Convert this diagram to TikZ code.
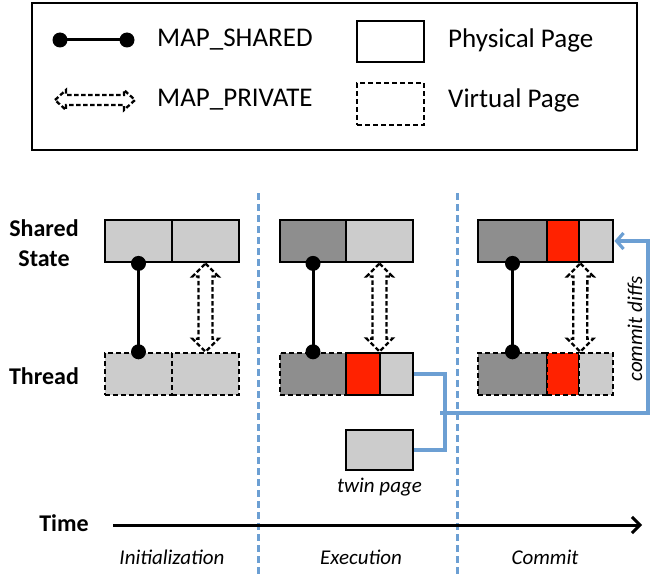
\documentclass[tikz,border=0pt]{standalone}
\usepackage{fontspec}
\setmainfont{Carlito}
\usetikzlibrary{arrows.meta}
\definecolor{lg}{HTML}{CCCCCC}
\definecolor{dg}{HTML}{8E8E8E}
\definecolor{rd}{HTML}{FF2200}
\definecolor{bl}{HTML}{6C9FD3}
\newcommand{\vparrow}[2]{\draw[privline] (#1) -- ([shift={(13,13)}]#1) -- ([shift={(7,13)}]#1) -- ([shift={(7,-13)}]#2) -- ([shift={(13,-13)}]#2) -- (#2) -- ([shift={(-13,-13)}]#2) -- ([shift={(-7,-13)}]#2) -- ([shift={(-7,13)}]#1) -- ([shift={(-13,13)}]#1) -- cycle;}
\newcommand{\hparrow}[2]{\draw[privline] (#1) -- ([shift={(11,-10)}]#1) -- ([shift={(11,-5)}]#1) -- ([shift={(-11,-5)}]#2) -- ([shift={(-11,-10)}]#2) -- (#2) -- ([shift={(-11,10)}]#2) -- ([shift={(-11,5)}]#2) -- ([shift={(11,5)}]#1) -- ([shift={(11,10)}]#1) -- cycle;}
\begin{document}
\begin{tikzpicture}[x=1pt,y=-1pt,
  phys/.style={draw=black, line width=2.8pt, inner sep=0pt, minimum height=42pt},
  virt/.style={phys, line width=2.4pt, dash pattern=on 5pt off 3pt},
  privline/.style={draw=black, fill=white, line width=2.3pt, dash pattern=on 4.5pt off 2.5pt, line join=miter},
  sharedline/.style={draw=black, line width=3pt},
  dot/.style={circle, fill=black, inner sep=0pt, minimum size=15pt},
  blueline/.style={draw=bl, line width=3.2pt},
  phase/.style={draw=bl, line width=3pt, dash pattern=on 7pt off 4pt},
  legtext/.style={anchor=west, font=\fontsize{27}{30}\selectfont, inner sep=0pt},
  rowlabel/.style={font=\bfseries\fontsize{24}{30}\selectfont, align=center, inner sep=0pt},
  itl/.style={font=\itshape\fontsize{21}{24}\selectfont, inner sep=0pt}]
\useasboundingbox (0,0) rectangle (650,575);
% legend
\node[draw=black, line width=1.6pt, minimum width=605pt, minimum height=147pt, inner sep=0pt] (legend) at (334.5,76.5) {};
\coordinate (la) at (60,40);
\coordinate (lb) at (127,40);
\draw[sharedline] (la) -- (lb);
\node[dot] (lda) at (la) {};
\node[dot] (ldb) at (lb) {};
\node[legtext] (lt1) at (157,40) {MAP\_SHARED};
\coordinate (pa) at (55,100);
\coordinate (pb) at (135,100);
\hparrow{pa}{pb}
\node[legtext] (lt2) at (157,100) {MAP\_PRIVATE};
\node[phys, minimum width=67pt, minimum height=41pt] (lphys) at (390.5,41.5) {};
\node[legtext] (lt3) at (448,40) {Physical Page};
\node[virt, minimum width=67pt, minimum height=42pt] (lvirt) at (390.5,104) {};
\node[legtext] (lt4) at (448,100) {Virtual Page};
% phase separators
\coordinate (d1t) at (258,193); \coordinate (d1b) at (258,575);
\coordinate (d2t) at (457,193); \coordinate (d2b) at (457,575);
\draw[phase] (d1t) -- (d1b);
\draw[phase] (d2t) -- (d2b);
% row labels
\node[rowlabel] (lshared) at (44,243) {Shared\\State};
\node[rowlabel] (lthread) at (44,376) {Thread};
% initialization
\node[phys, fill=lg, minimum width=67pt] (s1a) at (138.5,241) {};
\node[phys, fill=lg, minimum width=67pt] (s1b) at (205.5,241) {};
\node[virt, fill=lg, minimum width=67pt] (t1a) at (138.5,374) {};
\node[virt, fill=lg, minimum width=67pt] (t1b) at (205.5,374) {};
\draw[sharedline] (s1a.south) -- (t1a.north);
\node[dot] at (s1a.south) {};
\node[dot] at (t1a.north) {};
\vparrow{s1b.south}{t1b.north}
% execution
\node[phys, fill=dg, minimum width=66pt] (s2a) at (313,241) {};
\node[phys, fill=lg, minimum width=67pt] (s2b) at (379.5,241) {};
\node[virt, fill=dg, minimum width=66pt] (t2a) at (313,374) {};
\node[phys, fill=rd, minimum width=34pt] (t2b) at (363,374) {};
\node[phys, fill=lg, minimum width=33pt] (t2c) at (396.5,374) {};
\node[phys, fill=lg, minimum width=67pt, minimum height=40pt] (twin) at (379.5,450) {};
\node[itl] (twinlbl) at (379.5,487) {twin page};
\draw[sharedline] (s2a.south) -- (t2a.north);
\node[dot] at (s2a.south) {};
\node[dot] at (t2a.north) {};
\coordinate (p2) at (s2b.south |- t2b.north);
\vparrow{s2b.south}{p2}
% commit
\node[phys, fill=dg, minimum width=69pt] (s3a) at (512.5,241) {};
\node[phys, fill=rd, minimum width=32pt] (s3b) at (563,241) {};
\node[phys, fill=lg, minimum width=34pt] (s3c) at (596,241) {};
\node[virt, fill=dg, minimum width=69pt] (t3a) at (512.5,374) {};
\node[virt, fill=rd, minimum width=32pt] (t3b) at (563,374) {};
\node[virt, fill=lg, minimum width=34pt] (t3c) at (596,374) {};
\draw[sharedline] (s3a.south) -- (t3a.north);
\node[dot] at (s3a.south) {};
\node[dot] at (t3a.north) {};
\coordinate (p3t) at (s3b.south east);
\coordinate (p3b) at (t3b.north east);
\vparrow{p3t}{p3b}
% blue connectors
\coordinate (j) at (445,413);
\draw[blueline] (t2c.east) -| (j) |- (twin.east);
\coordinate (jl) at (440,413);
\coordinate (jr) at (648,413);
\draw[blueline, -{Straight Barb[length=7pt,width=16pt]}] (jl) -- (jr) |- (s3c.east);
\node[itl, rotate=90] (cdiff) at (635,329) {commit diffs};
% time axis
\node[rowlabel] (time) at (64,523) {Time};
\coordinate (ta) at (113,525);
\coordinate (tb) at (642,525);
\draw[line width=3pt, -{Straight Barb[length=8pt,width=16pt]}] (ta) -- (tb);
\node[itl] (ph1) at (172,557) {Initialization};
\node[itl] (ph2) at (361,557) {Execution};
\node[itl] (ph3) at (545,557) {Commit};
\end{tikzpicture}
\end{document}
